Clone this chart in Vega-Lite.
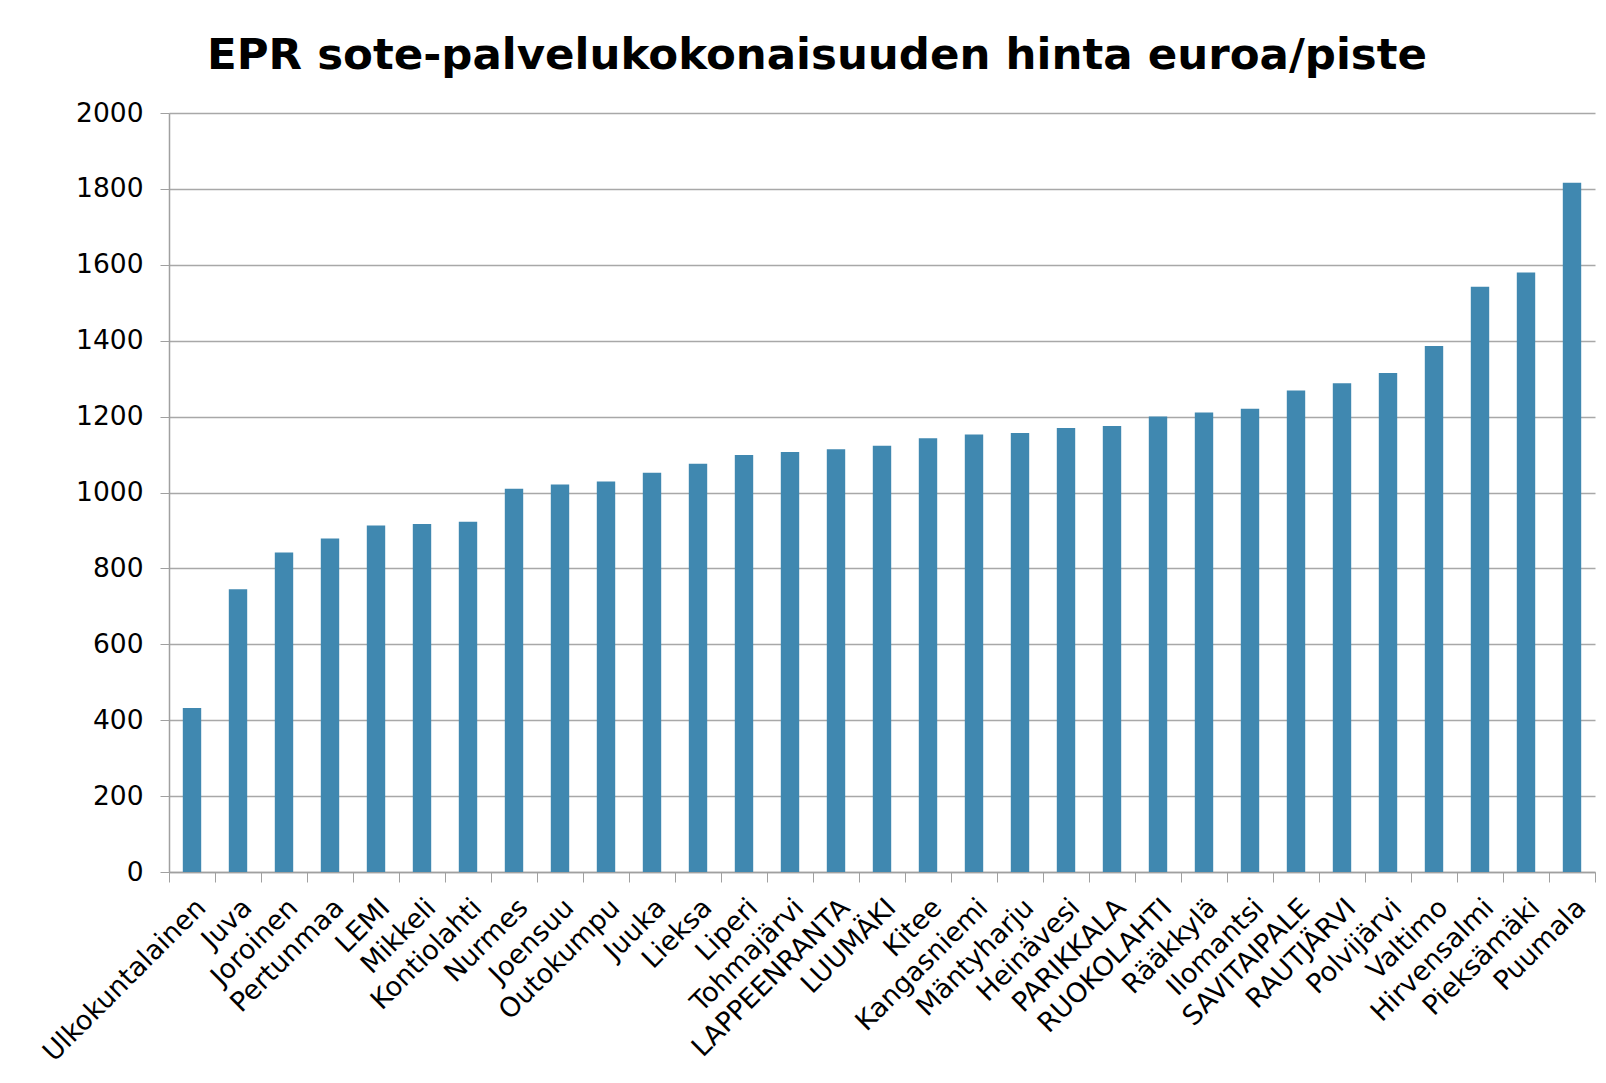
{
  "$schema": "https://vega.github.io/schema/vega-lite/v6.json",
  "width": 1426,
  "height": 759,
  "autosize": {"type": "none"},
  "padding": {"left": 169, "top": 113, "right": 11, "bottom": 211},
  "background": "white",
  "title": {
    "text": "EPR sote-palvelukokonaisuuden hinta euroa/piste",
    "font": "DejaVu Sans",
    "fontSize": 43.5,
    "fontWeight": "bold",
    "color": "black",
    "anchor": "middle",
    "dx": -65,
    "offset": 22
  },
  "data": {
    "values": [
      {"kunta": "Ulkokuntalainen", "hinta": 432},
      {"kunta": "Juva", "hinta": 745},
      {"kunta": "Joroinen", "hinta": 842},
      {"kunta": "Pertunmaa", "hinta": 879},
      {"kunta": "LEMI", "hinta": 913},
      {"kunta": "Mikkeli", "hinta": 917},
      {"kunta": "Kontiolahti", "hinta": 923},
      {"kunta": "Nurmes", "hinta": 1010},
      {"kunta": "Joensuu", "hinta": 1021},
      {"kunta": "Outokumpu", "hinta": 1029},
      {"kunta": "Juuka", "hinta": 1052},
      {"kunta": "Lieksa", "hinta": 1076},
      {"kunta": "Liperi", "hinta": 1099},
      {"kunta": "Tohmajärvi", "hinta": 1107},
      {"kunta": "LAPPEENRANTA", "hinta": 1114},
      {"kunta": "LUUMÄKI", "hinta": 1123},
      {"kunta": "Kitee", "hinta": 1143},
      {"kunta": "Kangasniemi", "hinta": 1153},
      {"kunta": "Mäntyharju", "hinta": 1157},
      {"kunta": "Heinävesi", "hinta": 1170},
      {"kunta": "PARIKKALA", "hinta": 1175},
      {"kunta": "RUOKOLAHTI", "hinta": 1200},
      {"kunta": "Rääkkylä", "hinta": 1211},
      {"kunta": "Ilomantsi", "hinta": 1221},
      {"kunta": "SAVITAIPALE", "hinta": 1269},
      {"kunta": "RAUTJÄRVI", "hinta": 1288},
      {"kunta": "Polvijärvi", "hinta": 1315},
      {"kunta": "Valtimo", "hinta": 1386},
      {"kunta": "Hirvensalmi", "hinta": 1542},
      {"kunta": "Pieksämäki", "hinta": 1580},
      {"kunta": "Puumala", "hinta": 1816}
    ]
  },
  "mark": {"type": "bar", "color": "#4088b0", "width": {"band": 0.4}},
  "encoding": {
    "x": {
      "field": "kunta",
      "type": "nominal",
      "sort": null,
      "scale": {"paddingInner": 0, "paddingOuter": 0},
      "axis": {
        "title": null,
        "labelAngle": -45,
        "tickBand": "extent",
        "tickSize": 10,
        "tickColor": "#a0a0a0",
        "domainColor": "#a0a0a0",
        "domainWidth": 1.5,
        "labelFont": "DejaVu Sans",
        "labelFontSize": 27,
        "labelColor": "black",
        "labelPadding": 12,
        "labelLimit": 0
      }
    },
    "y": {
      "field": "hinta",
      "type": "quantitative",
      "scale": {"domain": [0, 2000], "nice": false},
      "axis": {
        "title": null,
        "format": "d",
        "values": [0, 200, 400, 600, 800, 1000, 1200, 1400, 1600, 1800, 2000],
        "labelFont": "DejaVu Sans",
        "labelFontSize": 26.5,
        "labelColor": "black",
        "labelPadding": 17,
        "tickSize": 9,
        "tickColor": "#a0a0a0",
        "domainColor": "#a0a0a0",
        "domainWidth": 1.5,
        "gridColor": "#a8a8a8",
        "gridWidth": 1.5
      }
    }
  },
  "config": {"view": {"stroke": null}}
}
